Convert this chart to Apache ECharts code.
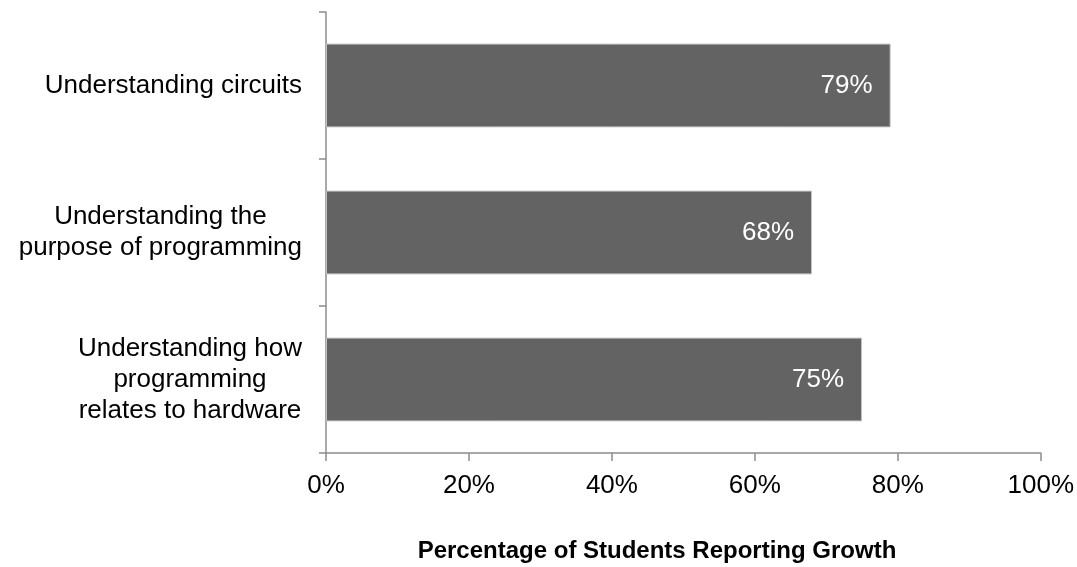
<!DOCTYPE html>
<html>
<head>
<meta charset="utf-8">
<script src="https://cdn.jsdelivr.net/npm/echarts@6/dist/echarts.min.js"></script>
<style>
  html, body { margin: 0; padding: 0; background: #fff; }
  #chart { width: 1077px; height: 567px; }
</style>
</head>
<body>
<div id="chart"></div>
<script>
// Skill areas, listed top to bottom
const categories = [
  'Understanding circuits',
  'Understanding the\npurpose of programming',
  'Understanding how\nprogramming\nrelates to hardware'
];
// Share of students reporting growth (%)
const growth = [79, 68, 75];
// Value axis tick values (%)
const xTicks = [0, 20, 40, 60, 80, 100];
const axisTitle = 'Percentage of Students Reporting Growth';

const FONT = '"Liberation Sans", Arial, sans-serif';
const AXIS_GRAY = '#8c8c8c';

const chart = echarts.init(document.getElementById('chart'), null, { renderer: 'canvas' });

chart.setOption({
  animation: false,
  backgroundColor: '#ffffff',
  title: {
    text: axisTitle,
    left: 657,
    top: 539,
    textAlign: 'center',
    padding: 0,
    textStyle: { fontFamily: FONT, fontSize: 24, fontWeight: 'bold', color: '#000' }
  },
  grid: { left: 326, right: 33, top: 12, bottom: 114, containLabel: false },
  xAxis: {
    type: 'value',
    min: xTicks[0],
    max: xTicks[xTicks.length - 1],
    interval: xTicks[1] - xTicks[0],
    axisLine: { show: true, lineStyle: { color: AXIS_GRAY, width: 1.5 } },
    axisTick: { show: true, length: 8, lineStyle: { color: AXIS_GRAY, width: 1.5 } },
    splitLine: { show: false },
    axisLabel: {
      margin: 20,
      fontFamily: FONT,
      fontSize: 26,
      color: '#000',
      formatter: v => v + '%'
    }
  },
  yAxis: {
    type: 'category',
    inverse: true,
    data: categories,
    axisLine: { show: true, lineStyle: { color: AXIS_GRAY, width: 1.5 } },
    axisTick: { show: true, length: 7, alignWithLabel: false, lineStyle: { color: AXIS_GRAY, width: 1.5 } },
    axisLabel: {
      margin: 24,
      align: 'right',
      formatter: v => v.split('\n').map(l => '{c|' + l + '}').join('\n'),
      rich: {
        c: {
          align: 'center',
          fontFamily: FONT,
          fontSize: 26,
          lineHeight: 31,
          color: '#000'
        }
      }
    }
  },
  series: [{
    type: 'bar',
    data: growth,
    barCategoryGap: '43%',
    itemStyle: { color: '#636363', borderColor: '#c4c4c4', borderWidth: 1 },
    label: {
      show: true,
      position: 'insideRight',
      distance: 18,
      fontFamily: FONT,
      fontSize: 26,
      color: '#ffffff',
      formatter: p => p.value + '%'
    }
  }]
});
</script>
</body>
</html>
